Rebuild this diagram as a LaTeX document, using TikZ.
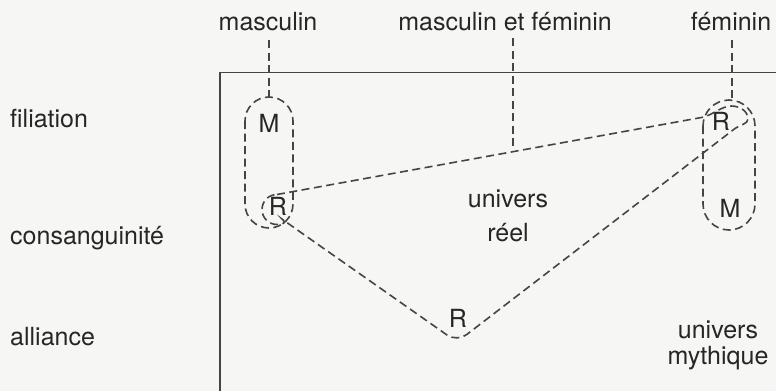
\documentclass[tikz,border=0pt]{standalone}
\usepackage{fontspec}
\setmainfont{TeX Gyre Heros}
\definecolor{ink}{HTML}{262626}
\definecolor{linec}{HTML}{454545}
\definecolor{paper}{HTML}{F6F6F4}
\tikzset{
  lbl/.style={inner sep=0pt, anchor=base, text=ink, font=\fontsize{25}{29}\selectfont},
  lblw/.style={lbl, anchor=base west},
  dsh/.style={draw=linec, line width=1.6pt, dash pattern=on 8pt off 4.5pt},
  frame/.style={draw=linec, line width=1.8pt}
}
\begin{document}
\begin{tikzpicture}[x=1pt,y=-1pt]
\fill[paper] (0,0) rectangle (776,391);
\useasboundingbox (0,0) rectangle (776,391);

% frame
\draw[frame] (220,391) -- (220,72.5) -- (776,72.5);

% top labels
\node[lbl] (mas) at (268,30) {masculin};
\node[lbl] (mf) at (505,30) {masculin et féminin};
\node[lbl] (fem) at (731,30) {féminin};

% left labels
\node[lblw] (fil) at (10,127) {filiation};
\node[lblw] (con) at (10,244) {consanguinité};
\node[lblw] (all) at (10,345) {alliance};

% inner labels
\node[lbl] (ur) at (508,207) {univers};
\node[lbl] (re) at (508,241) {réel};
\node[lbl] (um1) at (718,338) {univers};
\node[lbl] (um2) at (718,364) {mythique};

\node[lbl] (M1) at (269,132) {M};
\node[lbl] (R1) at (278,215) {R};
\node[lbl] (R2) at (721,130) {R};
\node[lbl] (M2) at (730,217) {M};
\node[lbl] (R3) at (458,327) {R};

% capsules
\draw[dsh, rounded corners=24pt] (245,97) rectangle (293,228);
\draw[dsh, rounded corners=26pt] (703,100) rectangle (755,230);

% connector coordinates
\coordinate (masTop) at (269,40);
\coordinate (masBot) at (269,97);
\coordinate (femTop) at (732,40);
\coordinate (femBot) at (732,100);
\coordinate (mfTop) at (513,38);
\coordinate (mfBot) at (513,151.6);

\draw[dsh] (masTop) -- (masBot);
\draw[dsh] (femTop) -- (femBot);
\draw[dsh] (mfTop) -- (mfBot);

% triangle with loops
\coordinate (T) at (277,194.5);
\coordinate (Qin) at (703,117.2);
\coordinate (Qout) at (735,128.5);
\coordinate (V) at (457,342);
\coordinate (E) at (292,226.2);
\draw[dsh]
  (T) -- (Qin)
  .. controls (711,115.7) and (722,106) .. (731,106)
  .. controls (741,106) and (748,112) .. (748,119)
  .. controls (748,124) and (739.8,124.8) .. (Qout)
  [rounded corners=12pt] -- (V) -- (E) [sharp corners]
  .. controls (287.1,222.7) and (283,224.5) .. (277,224.5)
  .. controls (268.7,224.5) and (262,217.8) .. (262,209.5)
  .. controls (262,201.2) and (268.7,194.5) .. (T);
\end{tikzpicture}
\end{document}
